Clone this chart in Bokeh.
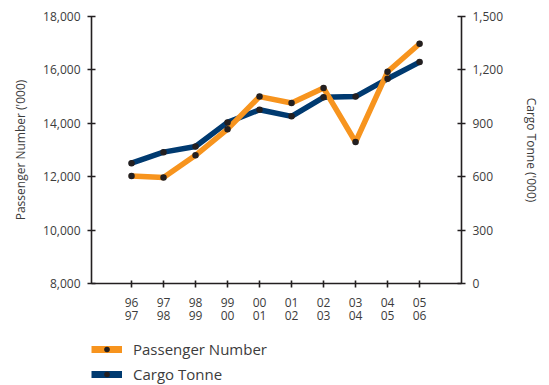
from bokeh.plotting import figure
from bokeh.layouts import column
from bokeh.models import (Range1d, LinearAxis, FixedTicker, Legend, LegendItem)
from bokeh.embed import file_html
from bokeh.resources import INLINE

# Financial years (two-line labels) and the two series
years = ["96\n97", "97\n98", "98\n99", "99\n00", "00\n01",
         "01\n02", "02\n03", "03\n04", "04\n05", "05\n06"]
passenger_k = [12030, 11970, 12800, 13780, 15000, 14760, 15320, 13300, 15930, 16980]
cargo_k = [676, 738, 770, 905, 976, 939, 1046, 1050, 1150, 1244]

left_ticks = [8000, 10000, 12000, 14000, 16000, 18000]
right_ticks = [0, 300, 600, 900, 1200, 1500]

FONT = "Open Sans"
TEXT = "#3c3c3c"
AXIS = "#231f20"
ORANGE = "#f7941e"
NAVY = "#003a70"
DOT = "#231f20"

xs = list(range(len(years)))

W = 549
CHART_H = 330
LEGEND_H = 55

p = figure(width=W, height=CHART_H, output_backend="svg", toolbar_location=None,
           x_range=Range1d(-1.25, 10.31), y_range=Range1d(8000, 18000),
           min_border_left=91, min_border_right=88, min_border_top=16,
           min_border_bottom=47, x_axis_location=None, y_axis_location=None)
p.outline_line_color = None
p.xgrid.visible = False
p.ygrid.visible = False
p.background_fill_color = None
p.border_fill_color = "white"
p.extra_y_ranges = {"cargo": Range1d(0, 1500)}


def style_axis(ax):
    ax.axis_line_color = AXIS
    ax.axis_line_width = 1.6
    ax.major_tick_line_color = AXIS
    ax.major_tick_line_width = 1.6
    ax.major_tick_in = 4
    ax.major_tick_out = 4
    ax.minor_tick_line_color = None
    ax.major_label_text_font = FONT
    ax.major_label_text_font_size = "12px"
    ax.major_label_text_color = TEXT
    ax.axis_label_text_font = FONT
    ax.axis_label_text_font_size = "12px"
    ax.axis_label_text_font_style = "normal"
    ax.axis_label_text_color = TEXT


left = LinearAxis(ticker=FixedTicker(ticks=left_ticks),
                  axis_label="Passenger Number ('000)")
left.major_label_overrides = {t: f"{t:,}" for t in left_ticks}
style_axis(left)
left.major_label_standoff = 7
left.axis_label_standoff = 11
p.add_layout(left, "left")

right = LinearAxis(y_range_name="cargo", ticker=FixedTicker(ticks=right_ticks),
                   axis_label="Cargo Tonne ('000)")
right.major_label_overrides = {t: f"{t:,}" for t in right_ticks}
style_axis(right)
right.major_label_standoff = 7
right.axis_label_standoff = 17
p.add_layout(right, "right")

bottom = LinearAxis(ticker=FixedTicker(ticks=xs))
bottom.major_label_overrides = {i: lab for i, lab in enumerate(years)}
style_axis(bottom)
bottom.major_tick_in = 3
bottom.major_label_standoff = 6
bottom.major_label_text_line_height = 0.82
p.add_layout(bottom, "below")

LINE_STYLE = dict(line_width=5.5, line_join="round", line_cap="round")

# Series lines, then the black markers on top
p.line(xs, cargo_k, y_range_name="cargo", line_color=NAVY, **LINE_STYLE)
p.line(xs, passenger_k, line_color=ORANGE, **LINE_STYLE)
p.scatter(xs, cargo_k, y_range_name="cargo", size=6.5, fill_color=DOT, line_color=None)
p.scatter(xs, passenger_k, size=6.5, fill_color=DOT, line_color=None)

# Key strip beneath the chart (its frame lines up with the chart's frame);
# hidden copies of the series feed its legend
k = figure(width=W, height=LEGEND_H, output_backend="svg", toolbar_location=None,
           x_range=Range1d(-1.25, 10.31), y_range=Range1d(8000, 18000),
           min_border=0, x_axis_location=None, y_axis_location=None)
k.outline_line_color = None
k.xgrid.visible = False
k.ygrid.visible = False
k.background_fill_color = None
k.border_fill_color = "white"

KEY_LINE = dict(line_width=7, line_join="miter", line_cap="butt")
kp_line = k.line(xs, passenger_k, line_color=ORANGE, visible=False, **KEY_LINE)
kp_dots = k.scatter(xs, passenger_k, size=6.5, fill_color=DOT, line_color=None, visible=False)
kc_line = k.line(xs, cargo_k, line_color=NAVY, visible=False, **KEY_LINE)
kc_dots = k.scatter(xs, cargo_k, size=6.5, fill_color=DOT, line_color=None, visible=False)

legend = Legend(items=[
    LegendItem(label="Passenger Number", renderers=[kp_line, kp_dots]),
    LegendItem(label="Cargo Tonne", renderers=[kc_line, kc_dots]),
], location=(0, 1.5))
legend.orientation = "vertical"
legend.background_fill_alpha = 0
legend.border_line_color = None
legend.inactive_fill_alpha = 0
legend.margin = 0
legend.padding = 0
legend.spacing = 5
legend.glyph_width = 31
legend.glyph_height = 14
legend.label_height = 14
legend.label_standoff = 11
legend.label_text_font = FONT
legend.label_text_font_size = "15px"
legend.label_text_color = TEXT
legend.label_text_baseline = "middle"
legend.click_policy = "none"
k.add_layout(legend, "center")

layout = column(p, k, spacing=0)
open("out.html", "w").write(file_html(layout, INLINE))
